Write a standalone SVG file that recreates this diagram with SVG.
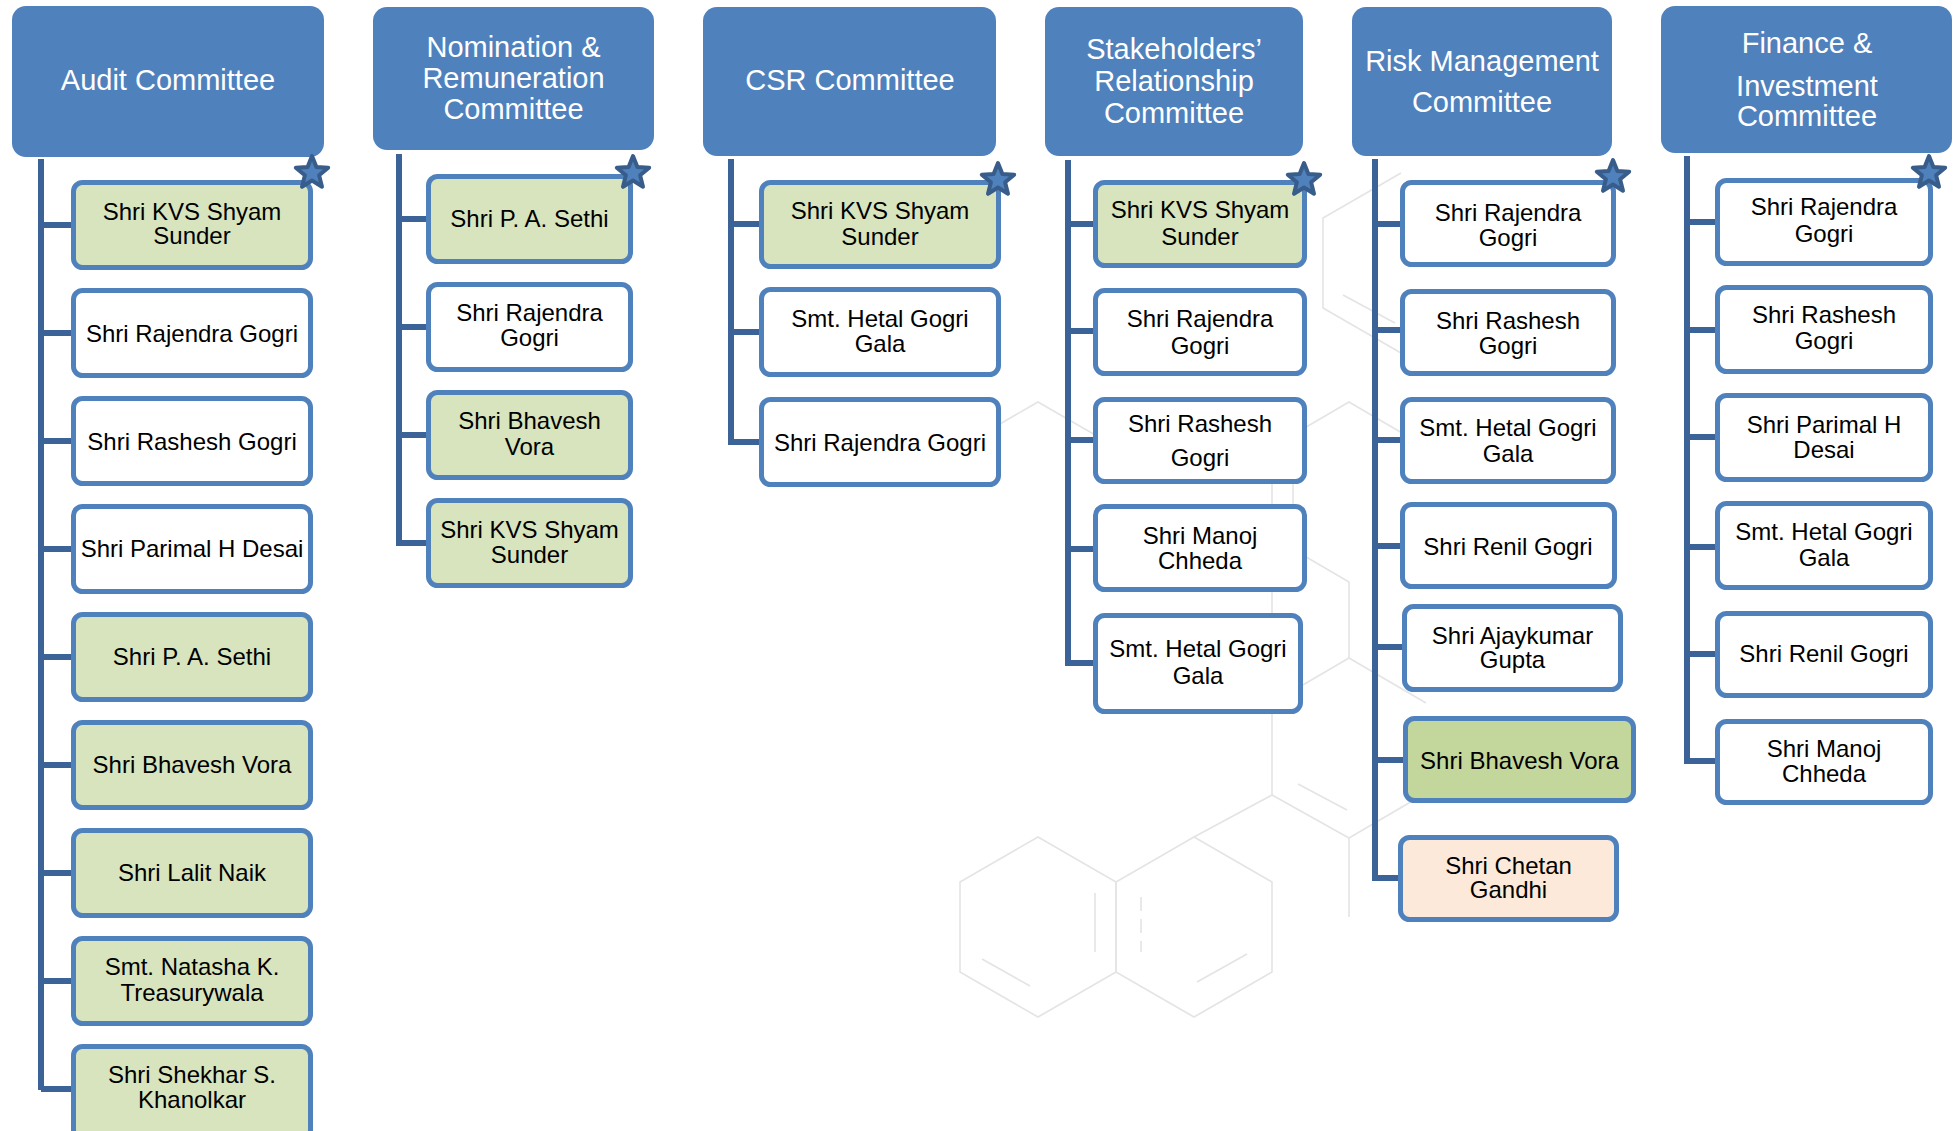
<svg xmlns="http://www.w3.org/2000/svg" xmlns:xlink="http://www.w3.org/1999/xlink" width="1956" height="1131" viewBox="0 0 1956 1131">
<style>
.hdr{fill:#4f81bd;}
.ht{fill:#ffffff;font-family:"Liberation Sans",Arial,sans-serif;font-size:29px;text-anchor:middle;}
.box{stroke:#4f81bd;stroke-width:5;fill:#ffffff;}
.g{fill:#d7e4bd;}
.g2{fill:#c3d69b;}
.pe{fill:#fde9d9;}
.bt{fill:#000000;font-family:"Liberation Sans",Arial,sans-serif;font-size:24px;text-anchor:middle;}
.con{stroke:#3c6397;stroke-width:6;fill:none;stroke-linecap:butt;stroke-linejoin:miter;}
.wm{stroke:#e4e4e4;stroke-width:1.6;fill:none;}
.star{fill:#4f81bd;stroke:#385d8a;stroke-width:4;stroke-linejoin:round;}
</style>
<defs>
<path id="star" d="M0,-17 L4.4,-6.1 L16.2,-5.3 L7.1,2.3 L10,13.8 L0,7.5 L-10,13.8 L-7.1,2.3 L-16.2,-5.3 L-4.4,-6.1 Z"/>
</defs>
<rect width="1956" height="1131" fill="#ffffff"/>
<g id="watermark" class="wm">
<polygon points="1038,837 1116,882 1116,972 1038,1017 960,972 960,882"/>
<polygon points="1194,837 1272,882 1272,972 1194,1017 1116,972 1116,882"/>
<line x1="1095" y1="893" x2="1095" y2="952"/>
<line x1="1141" y1="897" x2="1141" y2="952" stroke-dasharray="14,8"/>
<line x1="982" y1="959" x2="1030" y2="986"/>
<line x1="1197" y1="982" x2="1247" y2="954"/>
<polyline points="1194,837 1272,795 1349,838 1426,793"/>
<line x1="1349" y1="838" x2="1349" y2="917"/>
<line x1="1298" y1="784" x2="1347" y2="810"/>
<line x1="1272" y1="447" x2="1272" y2="795"/>
<polyline points="1272,447 1349,402 1426,447"/>
<polyline points="1272,537 1349,582 1349,658"/>
<polyline points="1272,703 1349,658 1426,703"/>
<line x1="1293" y1="464" x2="1293" y2="506"/>
<polyline points="960,447 1038,402 1116,447"/>
<polyline points="1401,173 1323,218 1323,308 1401,353"/>
<line x1="1343" y1="295" x2="1395" y2="323"/>
</g>
<g id="connectors" class="con">
<path d="M41,159 V1090 M41,225 H74 M41,333 H74 M41,441 H74 M41,549 H74 M41,657 H74 M41,765 H74 M41,873 H74 M41,981 H74 M41,1089 H74"/>
<path d="M399,154 V546 M399,219 H429 M399,327 H429 M399,435 H429 M399,543 H429"/>
<path d="M731,159 V445 M731,224 H762 M731,332 H762 M731,442 H762"/>
<path d="M1068,160 V666 M1068,224 H1096 M1068,331 H1096 M1068,440 H1096 M1068,549 H1096 M1068,663 H1096"/>
<path d="M1375,159 V881 M1375,224 H1403 M1375,330 H1403 M1375,440 H1403 M1375,546 H1403 M1375,647 H1405 M1375,760 H1406 M1375,878 H1401"/>
<path d="M1687,156 V764 M1687,222 H1718 M1687,330 H1718 M1687,437 H1718 M1687,547 H1718 M1687,654 H1718 M1687,761 H1718"/>
</g>

<g id="audit">
<rect class="hdr" x="12" y="6" width="312" height="151" rx="14"/>
<text class="ht" x="168" y="90">Audit Committee</text>
</g>
<g id="audit-1"><rect class="box g" x="73.5" y="182.5" width="237" height="85" rx="9"/><text class="bt" x="192" y="220">Shri KVS Shyam</text><text class="bt" x="192" y="244">Sunder</text><use href="#star" class="star" x="312" y="173"/></g>
<g id="audit-2"><rect class="box" x="73.5" y="290.5" width="237" height="85" rx="9"/><text class="bt" x="192" y="342">Shri Rajendra Gogri</text></g>
<g id="audit-3"><rect class="box" x="73.5" y="398.5" width="237" height="85" rx="9"/><text class="bt" x="192" y="450">Shri Rashesh Gogri</text></g>
<g id="audit-4"><rect class="box" x="73.5" y="506.5" width="237" height="85" rx="9"/><text class="bt" x="192" y="557">Shri Parimal H Desai</text></g>
<g id="audit-5"><rect class="box g" x="73.5" y="614.5" width="237" height="85" rx="9"/><text class="bt" x="192" y="665">Shri P. A. Sethi</text></g>
<g id="audit-6"><rect class="box g" x="73.5" y="722.5" width="237" height="85" rx="9"/><text class="bt" x="192" y="773">Shri Bhavesh Vora</text></g>
<g id="audit-7"><rect class="box g" x="73.5" y="830.5" width="237" height="85" rx="9"/><text class="bt" x="192" y="881">Shri Lalit Naik</text></g>
<g id="audit-8"><rect class="box g" x="73.5" y="938.5" width="237" height="85" rx="9"/><text class="bt" x="192" y="975">Smt. Natasha K.</text><text class="bt" x="192" y="1001">Treasurywala</text></g>
<g id="audit-9"><rect class="box g" x="73.5" y="1046.5" width="237" height="92" rx="9"/><text class="bt" x="192" y="1083">Shri Shekhar S.</text><text class="bt" x="192" y="1108">Khanolkar</text></g>

<g id="nomination">
<rect class="hdr" x="373" y="7" width="281" height="143" rx="14"/>
<text class="ht" x="513.5" y="57">Nomination &amp;</text>
<text class="ht" x="513.5" y="88">Remuneration</text>
<text class="ht" x="513.5" y="119">Committee</text>
</g>
<g id="nom-1"><rect class="box g" x="428.5" y="176.5" width="202" height="85" rx="9"/><text class="bt" x="529.5" y="227">Shri P. A. Sethi</text><use href="#star" class="star" x="633" y="173"/></g>
<g id="nom-2"><rect class="box" x="428.5" y="284.5" width="202" height="85" rx="9"/><text class="bt" x="529.5" y="321">Shri Rajendra</text><text class="bt" x="529.5" y="346">Gogri</text></g>
<g id="nom-3"><rect class="box g" x="428.5" y="392.5" width="202" height="85" rx="9"/><text class="bt" x="529.5" y="429">Shri Bhavesh</text><text class="bt" x="529.5" y="455">Vora</text></g>
<g id="nom-4"><rect class="box g" x="428.5" y="500.5" width="202" height="85" rx="9"/><text class="bt" x="529.5" y="538">Shri KVS Shyam</text><text class="bt" x="529.5" y="563">Sunder</text></g>

<g id="csr">
<rect class="hdr" x="703" y="7" width="293" height="149" rx="14"/>
<text class="ht" x="850" y="90">CSR Committee</text>
</g>
<g id="csr-1"><rect class="box g" x="761.5" y="182.5" width="237" height="84" rx="9"/><text class="bt" x="880" y="219">Shri KVS Shyam</text><text class="bt" x="880" y="245">Sunder</text><use href="#star" class="star" x="998" y="180"/></g>
<g id="csr-2"><rect class="box" x="761.5" y="289.5" width="237" height="85" rx="9"/><text class="bt" x="880" y="327">Smt. Hetal Gogri</text><text class="bt" x="880" y="352">Gala</text></g>
<g id="csr-3"><rect class="box" x="761.5" y="399.5" width="237" height="85" rx="9"/><text class="bt" x="880" y="451">Shri Rajendra Gogri</text></g>

<g id="stakeholders">
<rect class="hdr" x="1045" y="7" width="258" height="149" rx="14"/>
<text class="ht" x="1174" y="59">Stakeholders’</text>
<text class="ht" x="1174" y="91">Relationship</text>
<text class="ht" x="1174" y="123">Committee</text>
</g>
<g id="sh-1"><rect class="box g" x="1095.5" y="182.5" width="209" height="83" rx="9"/><text class="bt" x="1200" y="218">Shri KVS Shyam</text><text class="bt" x="1200" y="245">Sunder</text><use href="#star" class="star" x="1304" y="180"/></g>
<g id="sh-2"><rect class="box" x="1095.5" y="290.5" width="209" height="83" rx="9"/><text class="bt" x="1200" y="327">Shri Rajendra</text><text class="bt" x="1200" y="354">Gogri</text></g>
<g id="sh-3"><rect class="box" x="1095.5" y="399.5" width="209" height="82" rx="9"/><text class="bt" x="1200" y="432">Shri Rashesh</text><text class="bt" x="1200" y="466">Gogri</text></g>
<g id="sh-4"><rect class="box" x="1095.5" y="506.5" width="209" height="83" rx="9"/><text class="bt" x="1200" y="544">Shri Manoj</text><text class="bt" x="1200" y="569">Chheda</text></g>
<g id="sh-5"><rect class="box" x="1095.5" y="615.5" width="205" height="96" rx="9"/><text class="bt" x="1198" y="657">Smt. Hetal Gogri</text><text class="bt" x="1198" y="684">Gala</text></g>

<g id="risk">
<rect class="hdr" x="1352" y="7" width="260" height="149" rx="14"/>
<text class="ht" x="1482" y="71">Risk Management</text>
<text class="ht" x="1482" y="112">Committee</text>
</g>
<g id="risk-1"><rect class="box" x="1402.5" y="182.5" width="211" height="82" rx="9"/><text class="bt" x="1508" y="221">Shri Rajendra</text><text class="bt" x="1508" y="246">Gogri</text><use href="#star" class="star" x="1613" y="177"/></g>
<g id="risk-2"><rect class="box" x="1402.5" y="291.5" width="211" height="82" rx="9"/><text class="bt" x="1508" y="329">Shri Rashesh</text><text class="bt" x="1508" y="354">Gogri</text></g>
<g id="risk-3"><rect class="box" x="1402.5" y="399.5" width="211" height="82" rx="9"/><text class="bt" x="1508" y="436">Smt. Hetal Gogri</text><text class="bt" x="1508" y="462">Gala</text></g>
<g id="risk-4"><rect class="box" x="1402.5" y="504.5" width="212" height="82" rx="9"/><text class="bt" x="1508" y="555">Shri Renil Gogri</text></g>
<g id="risk-5"><rect class="box" x="1404.5" y="606.5" width="216" height="83" rx="9"/><text class="bt" x="1512.5" y="644">Shri Ajaykumar</text><text class="bt" x="1512.5" y="668">Gupta</text></g>
<g id="risk-6"><rect class="box g2" x="1405.5" y="718.5" width="228" height="82" rx="9"/><text class="bt" x="1519.5" y="769">Shri Bhavesh Vora</text></g>
<g id="risk-7"><rect class="box pe" x="1400.5" y="837.5" width="216" height="82" rx="9"/><text class="bt" x="1508.5" y="874">Shri Chetan</text><text class="bt" x="1508.5" y="898">Gandhi</text></g>

<g id="finance">
<rect class="hdr" x="1661" y="6" width="291" height="147" rx="14"/>
<text class="ht" x="1807" y="53">Finance &amp;</text>
<text class="ht" x="1807" y="96">Investment</text>
<text class="ht" x="1807" y="126">Committee</text>
</g>
<g id="fin-1"><rect class="box" x="1717.5" y="180.5" width="213" height="83" rx="9"/><text class="bt" x="1824" y="215">Shri Rajendra</text><text class="bt" x="1824" y="242">Gogri</text><use href="#star" class="star" x="1929" y="173"/></g>
<g id="fin-2"><rect class="box" x="1717.5" y="287.5" width="213" height="84" rx="9"/><text class="bt" x="1824" y="323">Shri Rashesh</text><text class="bt" x="1824" y="349">Gogri</text></g>
<g id="fin-3"><rect class="box" x="1717.5" y="395.5" width="213" height="84" rx="9"/><text class="bt" x="1824" y="433">Shri Parimal H</text><text class="bt" x="1824" y="458">Desai</text></g>
<g id="fin-4"><rect class="box" x="1717.5" y="503.5" width="213" height="84" rx="9"/><text class="bt" x="1824" y="540">Smt. Hetal Gogri</text><text class="bt" x="1824" y="566">Gala</text></g>
<g id="fin-5"><rect class="box" x="1717.5" y="613.5" width="213" height="82" rx="9"/><text class="bt" x="1824" y="662">Shri Renil Gogri</text></g>
<g id="fin-6"><rect class="box" x="1717.5" y="721.5" width="213" height="81" rx="9"/><text class="bt" x="1824" y="757">Shri Manoj</text><text class="bt" x="1824" y="782">Chheda</text></g>
</svg>
